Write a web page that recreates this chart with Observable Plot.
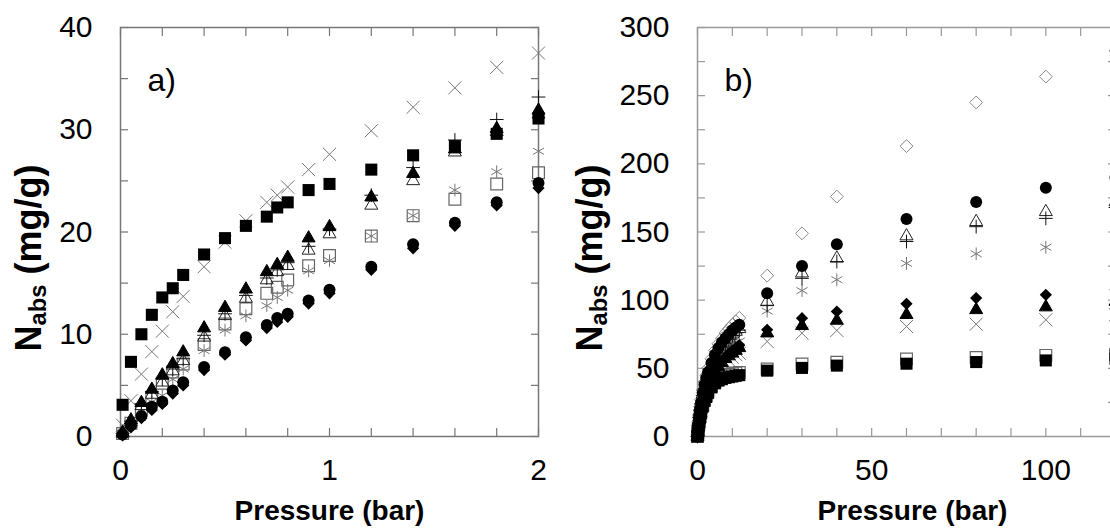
<!DOCTYPE html>
<html><head><meta charset="utf-8">
<script src="https://cdn.jsdelivr.net/npm/d3@7"></script>
<script src="https://cdn.jsdelivr.net/npm/@observablehq/plot@0.6"></script>
<style>
body{margin:0;background:#fff;}
#wrap{position:relative;width:1110px;height:529px;overflow:hidden;font-family:"Liberation Sans",Arial,sans-serif;color:#000;background:#fff;}
.panel{position:absolute;top:0;height:529px;}
.panel svg{max-width:none !important;}
.ylab{position:absolute;font-weight:bold;font-size:36px;white-space:nowrap;transform:translate(-50%,-50%) rotate(-90deg);line-height:1;}
.ylab sub{font-size:66%;vertical-align:-0.2em;line-height:0;}
</style>
</head><body>
<div id="wrap">
  <div id="pa" class="panel" style="left:0;width:560px"></div>
  <div id="pb" class="panel" style="left:560px;width:565px"></div>
  <div class="ylab" style="left:29px;top:258px">N<sub>abs</sub> (mg/g)</div>
  <div class="ylab" style="left:590px;top:258px">N<sub>abs</sub> (mg/g)</div>
</div>
<script>
// ---------- Panel a data (pressure in bar, N_abs in mg/g) ----------
const pressureA = [0.01, 0.05, 0.1, 0.15, 0.2, 0.25, 0.3, 0.4, 0.5, 0.6, 0.7, 0.75, 0.8, 0.9, 1.0, 1.2, 1.4, 1.6, 1.8, 2.0];
const aCrossGray   = [1.1, 3.5, 6.1, 8.3, 10.3, 12.2, 13.7, 16.6, 19.0, 21.1, 22.9, 23.6, 24.4, 26.1, 27.6, 29.9, 32.2, 34.1, 36.1, 37.5];
const aSquareOpen  = [0.3, 1.3, 2.6, 3.85, 5.2, 6.3, 7.1, 9.0, 11.0, 12.5, 14.0, 14.6, 15.3, 16.7, 17.7, 19.6, 21.6, 23.2, 24.7, 25.8];
const aAsterisk    = [0.2, 1.2, 2.4, 3.4, 4.0, 5.6, 6.6, 8.4, 10.4, 11.8, 12.8, 13.6, 14.3, 16.2, 17.2, 19.6, 21.6, 24.1, 25.9, 27.9];
const aTriOpen     = [0.3, 1.4, 3.0, 4.1, 5.3, 6.4, 7.4, 9.7, 11.8, 13.5, 15.3, 16.1, 16.7, 18.2, 19.8, 22.6, 25.0, 27.8, 29.8, 31.5];
const aPlus        = [0.3, 1.5, 3.2, 4.4, 5.6, 6.6, 7.6, 9.9, 12.0, 13.8, 15.5, 16.3, 17.0, 18.6, 20.3, 23.6, 26.3, 29.0, 31.0, 33.2];
const aCircle      = [0.2, 1.1, 2.0, 2.9, 3.4, 4.5, 5.3, 6.8, 8.25, 9.7, 10.9, 11.6, 12.0, 13.3, 14.35, 16.6, 18.8, 20.9, 22.9, 24.8];
const aDiamond     = [0.1, 0.9, 1.8, 2.6, 3.2, 4.2, 5.0, 6.5, 8.0, 9.4, 10.6, 11.2, 11.7, 13.0, 14.0, 16.3, 18.4, 20.6, 22.6, 24.3];
const aTriFilled   = [0.4, 1.6, 3.3, 4.6, 6.0, 7.1, 8.25, 10.6, 12.6, 14.4, 16.1, 16.8, 17.5, 19.4, 20.5, 23.4, 25.7, 28.1, 30.1, 31.9];
const aSquareFill  = [3.1, 7.3, 10.0, 11.9, 13.6, 14.5, 15.8, 17.8, 19.4, 20.6, 21.5, 22.4, 22.9, 24.1, 24.7, 26.1, 27.5, 28.4, 29.6, 31.1];

// ---------- Panel b data ----------
const pressureB = [0, 0.1, 0.25, 0.5, 0.75, 1, 1.5, 2, 2.5, 3, 4, 5, 6, 7, 8, 9, 10, 11, 12, 20, 30, 40, 60, 80, 100, 120];
const bDiamondOpen = [0, 4, 9, 16, 22, 27, 34, 40, 45, 50, 57, 63, 68, 72, 76, 79, 82, 84.5, 87, 118, 149, 176, 213, 245, 264, 283];
const bCrossGray   = [0, 3, 6, 11, 15, 19, 24, 28, 32, 35, 40, 45, 49, 52, 54, 56, 58, 60, 61, 69.7, 75.8, 77.8, 80.7, 82.4, 85.6, 89.3];
const bAsterisk    = [0, 3, 7, 13, 18, 22, 28, 33, 37, 41, 47, 52, 56, 60, 63, 66, 68, 69, 70, 92, 107, 115, 127, 134, 138.8, 148];
const bSquareOpen  = [0, 2.5, 6, 11, 15, 18, 23, 27, 30, 33, 37, 40, 42, 43.5, 44.5, 45.5, 46, 46.5, 47, 49.5, 53.2, 54.4, 56.8, 58, 59.5, 60];
const bTriOpen     = [0, 3.5, 8, 14, 19, 24, 31, 36, 41, 45, 52, 57, 62, 66, 69, 72, 75, 77, 79, 99, 119.8, 130.7, 147, 157.5, 164.8, 172];
const bPlus        = [0, 3.5, 8, 14, 19, 24, 30, 35, 40, 44, 51, 56, 61, 65, 68, 71, 74, 76, 78, 96, 116, 128.3, 143, 153.9, 160, 168];
const bCircle      = [0, 3.5, 8, 15, 20, 25, 32, 38, 43, 47, 54, 60, 65, 69, 72, 75, 78, 80, 82, 105, 125, 141, 159.5, 172, 182.4, 190];
const bDiamondFill = [0, 3, 7, 12, 16, 20, 25, 30, 34, 37, 43, 48, 52, 55, 58, 61, 63, 65, 67, 78.3, 86.8, 91.7, 97.3, 101.5, 103.9, 107.6];
const bTriFilled   = [0, 3, 7, 12, 16, 20, 25, 29, 33, 36, 42, 47, 51, 54, 57, 59, 61, 63, 65, 75.8, 81.2, 85.1, 89.3, 92.9, 94.9, 99];
const bSquareFill  = [0, 2.5, 6, 10, 14, 17, 22, 26, 29, 32, 36, 39, 41, 42, 43, 43.5, 44, 44.5, 45, 48.3, 50.3, 52, 53.4, 54.6, 55.8, 57];

// ---------- Axis ticks ----------
const aXLabels = [0, 1, 2];
const aYLabels = [0, 10, 20, 30, 40];
const aXTicks = [0, 0.2, 0.4, 0.6, 0.8, 1.0, 1.2, 1.4, 1.6, 1.8, 2.0];
const aYTicks = [0, 5, 10, 15, 20, 25, 30, 35, 40];
const bXLabels = [0, 50, 100];
const bYLabels = [0, 50, 100, 150, 200, 250, 300];
const bXTicks = [0, 10, 20, 30, 40, 50, 60, 70, 80, 90, 100, 110, 120];
const bYTicks = [0, 25, 50, 75, 100, 125, 150, 175, 200, 225, 250, 275, 300];

const rows = (ps, vs) => ps.map((p, i) => ({p, v: vs[i]}));
const GRAY = "#777";
const fmt = d3.format("~g");

const styles = {
  crossGray:   {symbol: "times", r: 6, stroke: GRAY, fill: "none", strokeWidth: 1},
  squareOpen:  {symbol: "square2", r: 7.5, stroke: "#666", fill: "none", strokeWidth: 1.2},
  asterisk:    {symbol: "asterisk", r: 6, stroke: GRAY, fill: "none", strokeWidth: 1},
  triOpen:     {symbol: "triangle2", r: 6.2, stroke: "#222", fill: "none", strokeWidth: 1},
  plus:        {symbol: "plus", r: 4.5, stroke: "#111", fill: "none", strokeWidth: 1},
  circle:      {symbol: "circle", r: 6, fill: "#000", stroke: "none"},
  diamondFill: {symbol: "diamond2", r: 5.5, fill: "#000", stroke: "none"},
  diamondOpen: {symbol: "diamond2", r: 5.8, fill: "none", stroke: "#888", strokeWidth: 1},
  triFilled:   {symbol: "triangle2", r: 6.2, fill: "#000", stroke: "#000", strokeWidth: 1},
  squareFill:  {symbol: "square", r: 6.8, fill: "#000", stroke: "none"}
};

function frameMarks(xTicks, yTicks, xLabels, yLabels, color) {
  const common = {stroke: color, label: null, tickFormat: () => "", tickSize: 8, strokeWidth: 1.2};
  return [
    Plot.axisX(xTicks, {...common, anchor: "bottom", dy: -8}),
    Plot.axisX(xTicks, {...common, anchor: "top", dy: 8}),
    Plot.axisY(yTicks, {...common, anchor: "left", dx: 8}),
    Plot.axisY(yTicks, {...common, anchor: "right", dx: -8}),
    Plot.axisX(xLabels, {anchor: "bottom", tickSize: 0, tickPadding: 22, fontSize: 30, label: null, fill: "#000", tickFormat: fmt}),
    Plot.axisY(yLabels, {anchor: "left", tickSize: 0, tickPadding: 28, fontSize: 30, label: null, fill: "#000", tickFormat: fmt}),
    Plot.frame({stroke: color, strokeWidth: 1.5})
  ];
}

const dot = (ps, vs, st) => Plot.dot(rows(ps, vs), {x: "p", y: "v", ...st});

const plotA = Plot.plot({
  width: 560, height: 529,
  marginLeft: 120, marginRight: 22, marginTop: 27, marginBottom: 93,
  style: {fontFamily: "Liberation Sans, Arial, sans-serif", color: "#000", background: "transparent", overflow: "visible", maxWidth: "none"},
  x: {domain: [0, 2]},
  y: {domain: [0, 40]},
  marks: [
    ...frameMarks(aXTicks, aYTicks, aXLabels, aYLabels, "#777"),
    dot(pressureA, aCrossGray, styles.crossGray),
    dot(pressureA, aSquareOpen, styles.squareOpen),
    dot(pressureA, aAsterisk, styles.asterisk),
    dot(pressureA, aTriOpen, styles.triOpen),
    dot(pressureA, aPlus, styles.plus),
    dot(pressureA, aCircle, styles.circle),
    dot(pressureA, aDiamond, styles.diamondFill),
    dot(pressureA, aTriFilled, styles.triFilled),
    dot(pressureA, aSquareFill, styles.squareFill),
    Plot.text(["a)"], {frameAnchor: "top-left", dx: 27, dy: 41, fontSize: 32, textAnchor: "start", fill: "#000"}),
    Plot.text(["Pressure (bar)"], {frameAnchor: "bottom", dy: 83, fontSize: 28, fontWeight: "bold", fill: "#000"})
  ]
});
document.getElementById("pa").appendChild(plotA);

const plotB = Plot.plot({
  width: 565, height: 529,
  marginLeft: 137, marginRight: 10, marginTop: 27, marginBottom: 93,
  style: {fontFamily: "Liberation Sans, Arial, sans-serif", color: "#000", background: "transparent", overflow: "visible", maxWidth: "none"},
  x: {domain: [0, 120]},
  y: {domain: [0, 300]},
  marks: [
    ...frameMarks(bXTicks, bYTicks, bXLabels, bYLabels, "#999"),
    dot(pressureB, bDiamondOpen, styles.diamondOpen),
    dot(pressureB, bCrossGray, styles.crossGray),
    dot(pressureB, bAsterisk, styles.asterisk),
    dot(pressureB, bSquareOpen, styles.squareOpen),
    dot(pressureB, bTriOpen, styles.triOpen),
    dot(pressureB, bPlus, styles.plus),
    dot(pressureB, bCircle, styles.circle),
    dot(pressureB, bDiamondFill, styles.diamondFill),
    dot(pressureB, bTriFilled, styles.triFilled),
    dot(pressureB, bSquareFill, styles.squareFill),
    Plot.text(["b)"], {frameAnchor: "top-left", dx: 27, dy: 41, fontSize: 32, textAnchor: "start", fill: "#000"}),
    Plot.text(["Pressure (bar)"], {frameAnchor: "bottom", dx: 6, dy: 83, fontSize: 28, fontWeight: "bold", fill: "#000"})
  ]
});
document.getElementById("pb").appendChild(plotB);
</script>
</body></html>
